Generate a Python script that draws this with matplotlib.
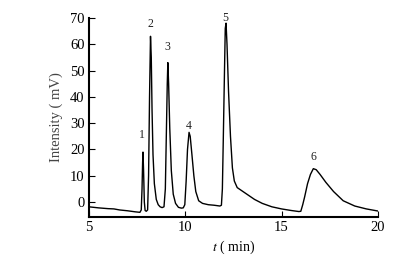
import matplotlib.pyplot as plt

# chromatogram: retention time (min) and intensity (mV)
time = [5.0, 5.5, 6.0, 6.3, 6.6, 7.0, 7.4, 7.65, 7.72, 7.76, 7.79, 7.81, 7.84,
        7.88, 7.92, 7.98, 8.05, 8.1, 8.15, 8.2, 8.24, 8.28, 8.33, 8.4, 8.5,
        8.6, 8.7, 8.8, 8.9, 8.97, 9.02, 9.07, 9.1, 9.14, 9.2, 9.28, 9.38, 9.5,
        9.65, 9.8, 9.9, 9.98, 10.05, 10.12, 10.2, 10.26, 10.35, 10.45, 10.55,
        10.7, 10.9, 11.2, 11.5, 11.8, 11.88, 11.93, 11.98, 12.04, 12.08, 12.12,
        12.17, 12.25, 12.35, 12.45, 12.55, 12.7, 12.9, 13.2, 13.6, 14.0, 14.5,
        15.0, 15.5, 15.9, 16.0, 16.1, 16.2, 16.35, 16.5, 16.65, 16.8, 17.0,
        17.3, 17.7, 18.2, 18.8, 19.4, 20.0]
signal = [-1.8, -2.2, -2.5, -2.6, -3.0, -3.3, -3.7, -3.9, -3.0, 5, 15, 19, 12,
          0, -3.2, -3.5, -3.0, 10, 40, 63, 55, 35, 18, 7, 1,
          -1, -1.8, -2.1, -1.8, 5, 25, 45, 53, 45, 28, 12, 3, -0.5,
          -2, -2.3, -2.2, -1, 8, 20, 26.5, 25, 18, 10, 4,
          0.5, -0.5, -1, -1.2, -1.5, -1.2, 5, 25, 50, 66, 68,
          60, 42, 25, 13, 8, 5.5, 4.5, 3, 1.0, -0.5, -1.8,
          -2.6, -3.2, -3.6, -3.5, -1, 2, 7, 10.5, 12.7, 12.3, 10.5,
          7.5, 4, 0.5, -1.5, -2.6, -3.4]

peak_labels = ['1', '2', '3', '4', '5', '6']
label_t = [7.75, 8.2, 9.05, 10.2, 12.1, 16.67]
label_y = [25.6, 67.7, 59, 29, 70, 17.3]

plt.rcParams['font.family'] = ['Liberation Serif', 'DejaVu Serif']
plt.rcParams['mathtext.fontset'] = 'stix'

fig = plt.figure(figsize=(4.02, 2.67), dpi=100)
ax = fig.add_axes([0.221, 0.187, 0.719, 0.746])

ax.plot(time, signal, color='black', lw=1.0)

for lab, tx, ty in zip(peak_labels, label_t, label_y):
    ax.text(tx, ty, lab, fontsize=8.5, ha='center', va='center', color='#222222')

ax.set_xlim(5, 20)
ax.set_ylim(-5.7, 70)
ax.set_xticks([5, 10, 15, 20])
ax.set_yticks([0, 10, 20, 30, 40, 50, 60, 70])
ax.spines['top'].set_visible(False)
ax.spines['right'].set_visible(False)
ax.spines['left'].set_linewidth(1.5)
ax.spines['bottom'].set_linewidth(1.5)
ax.tick_params(direction='in', length=4, width=0.8, labelsize=10.5, pad=3)

ax.set_xlabel(r'$t$ ( min)', fontsize=10, labelpad=3)
ax.set_ylabel('Intensity ( mV)', fontsize=10.5, color='#444444', labelpad=5)

fig.savefig('out.png', dpi=100)
